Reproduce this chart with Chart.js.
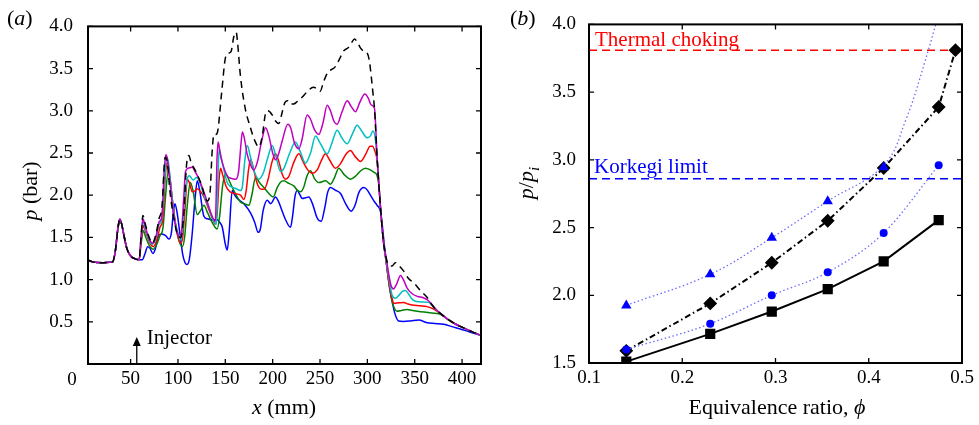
<!DOCTYPE html>
<html>
<head>
<meta charset="utf-8">
<script src="https://cdn.jsdelivr.net/npm/chart.js@4.4.1/dist/chart.umd.min.js"></script>
<style>
  body { margin: 0; background: #fff; }
  #wrap { position: relative; width: 979px; height: 425px; }
  canvas { position: absolute; top: 0; }
  #pressure { left: 0; }
  #ratio { left: 490px; }
</style>
</head>
<body>
<div id="wrap">
  <canvas id="pressure" width="490" height="425"></canvas>
  <canvas id="ratio" width="489" height="425"></canvas>
</div>
<script>
const serif = '"Liberation Serif", "Times New Roman", serif';
Chart.defaults.font.family = serif;
Chart.defaults.font.size = 19;
Chart.defaults.color = '#000';

// ---- (a) wall pressure along the duct, [x mm, p bar] ----
const inlet = [[5,1.23],[10,1.21],[20,1.2],[28,1.205],[31,1.21],[34,1.35],[36.5,1.6],[38.6,1.715],[40.5,1.66],[43,1.52],[46,1.37],[50,1.28],[55,1.245],[59,1.235]];
const tail = [[385,0.53],[392,0.48],[398,0.445],[405,0.41],[412,0.375],[420,0.34]];

const pDashed = inlet.concat([[61,1.5],[63,1.76],[65,1.68],[69,1.52],[73,1.43],[77,1.55],[80,1.72],[83,1.85],[86.5,2.45],[88.5,2.4],[92,2.0],[96,1.7],[100,1.52],[103,1.5],[106,1.75],[109,2.35],[111.5,2.47],[114,2.38],[118,2.3],[124,2.15],[131,1.93],[134,2.05],[136,2.5],[138,2.72],[140,2.72],[142,2.76],[146,3.2],[150,3.62],[153,3.68],[156,3.7],[159,3.88],[161.5,3.93],[163,3.8],[166,3.41],[171,3.03],[176,2.82],[181,2.65],[185.5,2.57],[189,2.7],[192.5,2.97],[195,3.0],[199,2.96],[203,2.88],[206.5,2.85],[210,2.98],[213,3.1],[216,3.12],[219,3.08],[222,3.08],[226,3.11],[231,3.16],[236,3.22],[243,3.28],[247,3.26],[250,3.23],[254,3.35],[258,3.45],[266,3.52],[270,3.6],[275,3.71],[280,3.75],[283,3.8],[286.5,3.85],[290,3.8],[293,3.74],[297,3.7],[300,3.68],[302,3.6],[304,3.42],[306,3.2],[307.5,3.03],[310.5,2.4],[313.7,1.88],[317,1.45],[320,1.25],[322,1.18],[326,1.16],[329.6,1.2],[333,1.17],[338.4,1.1],[343,1.02],[350,0.95],[356,0.87],[363,0.79],[367,0.72],[371,0.66],[377,0.6]], tail);

const pMagenta = inlet.concat([[61,1.5],[63,1.72],[65,1.65],[69,1.5],[73,1.43],[77,1.52],[80,1.68],[83,1.75],[85.5,2.3],[87.3,2.48],[89,2.42],[92,2.1],[95,1.8],[99,1.57],[102,1.5],[104,1.6],[106,1.95],[108,2.28],[111,2.32],[115,2.33],[118,2.28],[121,2.22],[126,2.08],[131,1.92],[135,1.78],[139.5,1.69],[141.3,2.45],[142.5,2.63],[144.5,2.5],[147,2.38],[152,2.23],[156,2.2],[161,2.19],[164,2.28],[166.5,2.6],[168,2.75],[170,2.68],[173,2.49],[177,2.35],[180,2.3],[184,2.4],[188,2.62],[192.5,2.8],[196,2.7],[200,2.5],[203,2.42],[206,2.48],[210,2.64],[216,2.84],[219,2.8],[223,2.62],[227.6,2.55],[231,2.66],[236.4,2.95],[240,2.9],[244,2.78],[248.7,2.72],[253,2.85],[257.6,3.065],[261,3.0],[265,2.87],[268,2.84],[273,2.98],[278.7,3.12],[283,3.05],[287.4,2.99],[292,3.1],[297.3,3.2],[301,3.15],[304,3.07],[307.5,3.03],[310.5,2.4],[313.7,1.88],[317,1.45],[320,1.25],[322.5,1.07],[325,0.93],[327.5,0.89],[331,0.95],[335,1.05],[338,1.0],[342,0.9],[347,0.835],[353,0.8],[359,0.785],[364,0.755],[370,0.68],[377,0.6]], tail);

const pCyan = inlet.concat([[61,1.48],[63,1.7],[65,1.62],[69,1.48],[73,1.42],[77,1.5],[80,1.65],[83,1.72],[86,2.2],[88,2.45],[90,2.38],[93,2.05],[96,1.75],[100,1.55],[103,1.47],[105,1.6],[107.5,2.0],[110,2.2],[112,2.23],[116,2.18],[120,2.21],[124,2.12],[128,1.98],[133,1.84],[137,1.71],[140.5,1.655],[142.2,2.2],[143.5,2.55],[145.5,2.45],[148.5,2.3],[152,2.15],[156,2.1],[161,2.08],[166,2.055],[168,2.1],[170.5,2.4],[173.2,2.59],[176,2.48],[180,2.3],[185.4,2.19],[190,2.26],[195,2.45],[199.5,2.59],[203,2.48],[208.3,2.28],[212,2.32],[218,2.5],[224.1,2.63],[229,2.52],[234.7,2.38],[240,2.5],[245.3,2.7],[250,2.62],[257.6,2.49],[262,2.6],[268.1,2.77],[273,2.68],[278.7,2.61],[284,2.72],[289.2,2.83],[294,2.76],[299.8,2.68],[303,2.7],[306,2.76],[308.2,2.68],[310.5,2.4],[313.7,1.88],[317,1.45],[320,1.22],[323,1.0],[326,0.82],[329.6,0.78],[333,0.81],[337,0.86],[340.2,0.87],[344,0.82],[348,0.76],[352.5,0.74],[358,0.735],[364.8,0.73],[370,0.67],[377,0.6]], tail);

const pRed = inlet.concat([[61,1.45],[63.5,1.64],[66,1.56],[70,1.44],[74,1.39],[78,1.48],[81,1.62],[84,1.72],[86.5,2.2],[88.5,2.39],[90.5,2.3],[94,1.95],[98,1.62],[102.8,1.43],[105,1.5],[107.5,1.85],[109.8,2.19],[112,2.15],[115.1,2.04],[118,2.05],[120.4,2.075],[124,2.04],[127.4,1.98],[132,1.85],[136.2,1.73],[139.7,1.655],[141.5,1.8],[143.5,2.2],[145,2.32],[147,2.25],[151,2.1],[155.5,2.035],[160,2.02],[166,2.0],[169.6,1.95],[172,2.05],[174.5,2.3],[176.6,2.42],[179,2.35],[183,2.16],[188,2.07],[191,2.07],[195,2.18],[199,2.38],[203,2.49],[207,2.38],[210,2.25],[213.5,2.19],[217,2.22],[222,2.38],[227.6,2.49],[232,2.4],[237,2.3],[242,2.26],[247,2.3],[251,2.4],[255.8,2.49],[260,2.42],[266.3,2.32],[272,2.38],[277,2.48],[282.1,2.53],[287,2.46],[292.7,2.4],[298,2.48],[303,2.58],[305.5,2.58],[308,2.52],[310.5,2.4],[313.7,1.88],[317,1.45],[320,1.2],[323,0.95],[326,0.78],[328,0.72],[333,0.725],[338.4,0.73],[343,0.71],[347.2,0.7],[355,0.69],[363,0.68],[370,0.65],[377,0.6]], tail);

const pGreen = inlet.concat([[61,1.42],[63.5,1.58],[66,1.5],[70,1.4],[74,1.36],[78,1.43],[81,1.52],[84,1.6],[87,2.0],[89.4,2.27],[91.5,2.2],[95,1.85],[99,1.55],[104.5,1.39],[107,1.5],[110,1.9],[113,2.15],[116,2.05],[120.4,1.77],[124,1.82],[127.4,1.88],[131,1.8],[136,1.68],[141.5,1.6],[144,1.75],[147,2.1],[150.3,2.25],[155,2.15],[159,2.055],[166,1.92],[170,1.9],[174.9,1.88],[178,2.0],[181.9,2.21],[186,2.15],[190.7,2.09],[197.7,2.0],[200.5,1.98],[204.8,2.09],[208,2.15],[211.8,2.17],[217,2.14],[222.3,2.11],[226,2.06],[229.4,2.04],[233,2.1],[236,2.22],[240,2.29],[244,2.2],[248.7,2.15],[255.8,2.17],[261.1,2.13],[265,2.2],[269.9,2.32],[275,2.25],[282.1,2.19],[288,2.23],[293,2.29],[298,2.32],[303,2.3],[307,2.27],[310,2.24],[312.3,2.1],[313.7,1.88],[317,1.45],[320,1.2],[323,0.95],[326,0.75],[328.5,0.66],[331.3,0.625],[336,0.635],[342,0.645],[349,0.63],[356,0.62],[364,0.61],[371,0.6],[377,0.59]], tail);

const pBlue = inlet.concat([[62.3,1.235],[65,1.3],[68,1.39],[70.5,1.37],[73.5,1.31],[76,1.36],[79.5,1.52],[83,1.54],[87,1.52],[90.5,1.48],[93,1.55],[95,1.78],[96.8,1.9],[99,1.8],[102,1.55],[105,1.3],[107.5,1.2],[109.5,1.18],[112,1.24],[115,1.54],[118,1.95],[120.4,2.17],[123,2.05],[127.4,1.75],[131,1.72],[136,1.71],[141.5,1.71],[144,1.68],[146.8,1.62],[150,1.42],[152,1.35],[154,1.55],[157.3,2.055],[160,2.0],[162.6,1.96],[169.6,1.9],[176.6,1.79],[181,1.68],[184.7,1.56],[187,1.6],[190,1.82],[194.2,1.94],[198,1.9],[203,1.98],[206,1.93],[210.1,1.81],[214,1.7],[218.8,1.62],[221,1.75],[223.5,1.98],[225.9,2.055],[229,2.0],[231.2,1.96],[235,1.97],[238.2,1.98],[242,1.9],[247,1.73],[251.2,1.69],[255,1.85],[258,2.03],[261.1,2.09],[266,2.06],[271.7,2.02],[277,1.9],[282.9,1.81],[287,1.88],[291,2.03],[296.2,2.09],[300,2.06],[303.2,2.0],[307,1.93],[310.3,1.88],[313.8,1.81],[316,1.62],[318,1.4],[320.9,1.12],[323.5,0.9],[326.2,0.74],[329,0.6],[333,0.51],[338,0.505],[345.5,0.51],[354.2,0.52],[363,0.49],[371,0.48],[380.6,0.47],[390,0.44],[398.2,0.415],[408,0.38],[420,0.34]]);

const xTicksA = [50, 100, 150, 200, 250, 300, 350, 400];
const yTicksA = [0.5, 1.0, 1.5, 2.0, 2.5, 3.0, 3.5, 4.0];
const injectorX = 56.5;

// ---- (b) pressure ratio against equivalence ratio ----
const phi = [0.14, 0.23, 0.296, 0.356, 0.416, 0.475];
const ratioSquare = [1.51, 1.715, 1.88, 2.045, 2.25, 2.555];
const phiDiamond = [0.14, 0.23, 0.296, 0.356, 0.416, 0.475, 0.493];
const ratioDiamond = [1.59, 1.94, 2.24, 2.55, 2.94, 3.39, 3.81];
const ratioCircle = [1.6, 1.79, 2.0, 2.17, 2.46, 2.96];
const ratioTriangle = [1.925, 2.155, 2.425, 2.695, 2.945];
const phiTriangleFit = [0.14, 0.23, 0.296, 0.356, 0.416, 0.44, 0.46, 0.478];
const ratioTriangleFit = [1.925, 2.155, 2.425, 2.695, 2.96, 3.3, 3.72, 4.15];
const thermalChoking = 3.81;
const korkegiLimit = 2.86;
const xTicksB = [0.1, 0.2, 0.3, 0.4, 0.5];
const yTicksB = [1.5, 2.0, 2.5, 3.0, 3.5, 4.0];

const pairs = (xs, ys) => xs.map((v, i) => ({ x: v, y: ys[i] }));

// mixed upright / italic text; parts are [text, style] with style '', 'i' or 'sub'
function richText(ctx, parts, x, y, size, center, vertical) {
  ctx.save();
  ctx.translate(x, y);
  if (vertical) ctx.rotate(-Math.PI / 2);
  ctx.textBaseline = 'alphabetic';
  const fonts = parts.map(([, s]) => (s ? 'italic ' : '') + (s === 'sub' ? Math.round(size * 0.7) : size) + 'px ' + serif);
  const widths = parts.map(([t], i) => { ctx.font = fonts[i]; return ctx.measureText(t).width; });
  let cx = center ? -widths.reduce((a, b) => a + b, 0) / 2 : 0;
  parts.forEach(([t, s], i) => {
    ctx.font = fonts[i];
    ctx.fillText(t, cx, s === 'sub' ? size * 0.25 : 0);
    cx += widths[i];
  });
  ctx.restore();
}

// box round the plot with ticks pointing inwards on all four sides
function boxAndTicks(chart) {
  const { ctx, chartArea: a, scales: { x, y } } = chart;
  ctx.save();
  ctx.strokeStyle = '#000';
  ctx.lineWidth = 1.3;
  ctx.beginPath();
  x.ticks.forEach(t => {
    const px = x.getPixelForValue(t.value);
    ctx.moveTo(px, a.bottom); ctx.lineTo(px, a.bottom - 5);
    ctx.moveTo(px, a.top); ctx.lineTo(px, a.top + 5);
  });
  y.ticks.forEach(t => {
    const py = y.getPixelForValue(t.value);
    ctx.moveTo(a.left, py); ctx.lineTo(a.left + 5, py);
    ctx.moveTo(a.right, py); ctx.lineTo(a.right - 5, py);
  });
  ctx.stroke();
  ctx.lineWidth = 2;
  ctx.strokeRect(a.left, a.top, a.right - a.left, a.bottom - a.top);
  ctx.restore();
}

function axisScales(xMin, xMax, xTicks, yMin, yMax, yTicks, yWidth, xHeight, yPad) {
  return {
    x: {
      type: 'linear', min: xMin, max: xMax,
      afterBuildTicks: s => { s.ticks = xTicks.map(v => ({ value: v })); },
      afterFit: s => { s.height = xHeight; },
      grid: { display: false, drawTicks: false },
      border: { display: false },
      ticks: { padding: 4, autoSkip: false, maxRotation: 0,
        callback: v => (xMax < 5 ? v.toFixed(1) : String(v)) }
    },
    y: {
      type: 'linear', min: yMin, max: yMax,
      afterBuildTicks: s => { s.ticks = yTicks.map(v => ({ value: v })); },
      afterFit: s => { s.width = yWidth; },
      grid: { display: false, drawTicks: false },
      border: { display: false },
      ticks: { padding: yPad, autoSkip: false, callback: v => v.toFixed(1) }
    }
  };
}

const curve = (data, color, dash) => ({
  data, showLine: true, borderColor: color, borderWidth: 1.5, borderDash: dash || [],
  pointRadius: 0, cubicInterpolationMode: 'monotone', fill: false
});

const pressureDecor = {
  id: 'pressureDecor',
  afterDraw(chart) {
    const { ctx, chartArea: a, scales: { x } } = chart;
    boxAndTicks(chart);
    ctx.save();
    ctx.fillStyle = '#000';
    // injector marker
    const ix = x.getPixelForValue(injectorX);
    ctx.strokeStyle = '#000';
    ctx.lineWidth = 1.3;
    ctx.beginPath();
    ctx.moveTo(ix, a.bottom); ctx.lineTo(ix, a.bottom - 20);
    ctx.stroke();
    ctx.beginPath();
    ctx.moveTo(ix, a.bottom - 27); ctx.lineTo(ix - 4, a.bottom - 18); ctx.lineTo(ix + 4, a.bottom - 18);
    ctx.closePath(); ctx.fill();
    ctx.font = '21px ' + serif;
    ctx.textAlign = 'left';
    ctx.fillText('Injector', ix + 10, a.bottom - 20);
    ctx.font = '19px ' + serif;
    ctx.textAlign = 'center';
    ctx.textBaseline = 'middle';
    ctx.fillText('0', 72, 380);
    ctx.restore();
    richText(ctx, [['(', ''], ['a', 'i'], [')', '']], 7, 25, 22, false, false);
    richText(ctx, [['p', 'i'], [' (bar)', '']], 37, 191, 22, true, true);
    richText(ctx, [['x', 'i'], [' (mm)', '']], 284, 414, 22, true, false);
  }
};

const ratioDecor = {
  id: 'ratioDecor',
  afterDraw(chart) {
    const { ctx, chartArea: a, scales: { y } } = chart;
    boxAndTicks(chart);
    ctx.save();
    ctx.font = '21px ' + serif;
    ctx.textAlign = 'left';
    ctx.textBaseline = 'alphabetic';
    ctx.fillStyle = '#ff0000';
    ctx.fillText('Thermal choking', a.left + 6, y.getPixelForValue(thermalChoking) - 4);
    ctx.fillStyle = '#0000ff';
    ctx.fillText('Korkegi limit', a.left + 5, y.getPixelForValue(korkegiLimit) - 6);
    ctx.restore();
    richText(ctx, [['(', ''], ['b', 'i'], [')', '']], 20, 25, 22, false, false);
    richText(ctx, [['p', 'i'], ['/', ''], ['p', 'i'], ['i', 'sub']], 43, 183, 22, true, true);
    richText(ctx, [['Equivalence ratio, ', ''], ['\u03d5', 'i']], 287, 414, 22, true, false);
  }
};

new Chart(document.getElementById('pressure'), {
  type: 'scatter',
  data: {
    datasets: [
      curve(pDashed, '#000000', [7, 5]),
      curve(pMagenta, '#bf00bf'),
      curve(pCyan, '#00bfbf'),
      curve(pRed, '#ff0000'),
      curve(pGreen, '#008000'),
      curve(pBlue, '#0000ff')
    ]
  },
  options: {
    responsive: false, animation: false, devicePixelRatio: 1,
    layout: { padding: { left: 0, right: 9, top: 15, bottom: 0 } },
    plugins: { legend: { display: false }, tooltip: { enabled: false } },
    scales: axisScales(5, 420, xTicksA, 0, 4, yTicksA, 88, 61, 15)
  },
  plugins: [pressureDecor]
});

new Chart(document.getElementById('ratio'), {
  type: 'scatter',
  data: {
    datasets: [
      { data: pairs(phi.slice(0, 5), ratioTriangle), pointStyle: 'triangle', pointRadius: 6,
        pointBackgroundColor: '#0000ff', pointBorderWidth: 0, showLine: false },
      { data: pairs(phi, ratioCircle), pointStyle: 'circle', pointRadius: 4,
        pointBackgroundColor: '#0000ff', pointBorderWidth: 0, showLine: true,
        borderColor: '#6b6bff', borderWidth: 1.3, borderDash: [1.5, 2.5], cubicInterpolationMode: 'monotone' },
      { data: pairs(phiTriangleFit, ratioTriangleFit), showLine: true, pointRadius: 0,
        borderColor: '#6b6bff', borderWidth: 1.3, borderDash: [1.5, 2.5], tension: 0.4 },
      { data: pairs(phiDiamond, ratioDiamond), pointStyle: 'rectRot', pointRadius: 5.5,
        backgroundColor: '#000', borderColor: '#000', borderWidth: 2, showLine: true, borderDash: [6, 3, 1.5, 3] },
      { data: pairs(phi, ratioSquare), pointStyle: 'rect', pointRadius: 5.8,
        backgroundColor: '#000', borderColor: '#000', borderWidth: 2, showLine: true },
      { data: pairs([0.1, 0.5], [thermalChoking, thermalChoking]), showLine: true, pointRadius: 0,
        borderColor: '#ff0000', borderWidth: 1.5, borderDash: [8, 5] },
      { data: pairs([0.1, 0.5], [korkegiLimit, korkegiLimit]), showLine: true, pointRadius: 0,
        borderColor: '#0000ff', borderWidth: 1.5, borderDash: [8, 5] }
    ]
  },
  options: {
    responsive: false, animation: false, devicePixelRatio: 1,
    layout: { padding: { left: 0, right: 17, top: 14, bottom: 0 } },
    plugins: { legend: { display: false }, tooltip: { enabled: false } },
    scales: axisScales(0.1, 0.5, xTicksB, 1.5, 4.0, yTicksB, 99, 62, 13)
  },
  plugins: [ratioDecor]
});
</script>
</body>
</html>
